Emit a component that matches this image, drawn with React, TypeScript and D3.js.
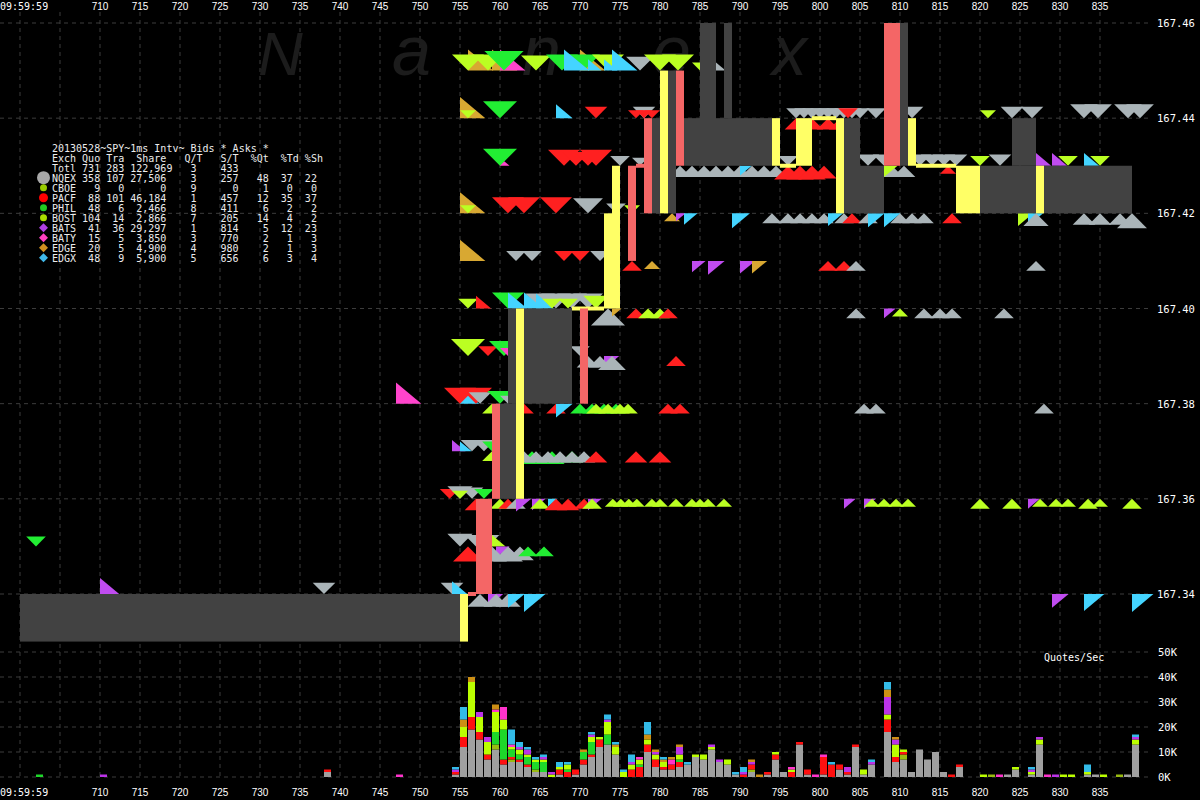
import * as d3 from 'd3';

type Code = 'Q' | 'C' | 'P' | 'X' | 'B' | 'Z' | 'Y' | 'K' | 'J';
type Side = 'a' | 'b' | 'A' | 'B';
// [time (ms after 09:59:59), price, exchange, side, size in lots]
type Quote = [number, number, Code, Side, number];
type Span = [number, number, number, number, 'g' | 'y' | 'r'];

const exchCodes: Code[] = ['Q', 'C', 'P', 'X', 'B', 'Z', 'Y', 'K', 'J'];
const exchNames = ['NQEX', 'CBOE', 'PACF', 'PHIL', 'BOST', 'BATS', 'BATY', 'EDGE', 'EDGX'];
const quoCounts = [358, 9, 88, 48, 104, 41, 15, 20, 48];
const traCounts = [107, 0, 101, 6, 14, 36, 5, 5, 9];
const shareCounts = [27506, 0, 46184, 2466, 2866, 29297, 3850, 4900, 5900];
const quotesPerTrade = [3, 9, 1, 8, 7, 1, 3, 4, 5];
const sharesPerTrade = [257, 0, 457, 411, 205, 814, 770, 980, 656];
const pctQuotes = [48, 1, 12, 6, 14, 5, 2, 2, 6];
const pctTrades = [37, 0, 35, 2, 4, 12, 1, 1, 3];
const pctShares = [22, 0, 37, 2, 2, 23, 3, 3, 4];
const totalRow = [731, 283, 122969, 3, 433];

const priceTicks = [167.34, 167.36, 167.38, 167.4, 167.42, 167.44, 167.46];
const volumeTicks = [0, 10, 20, 30, 40, 50];
const timeTicks = d3.range(700, 840, 5);

// NBBO spread: [t0, t1, low, high, kind]  g = normal, y = locked, r = crossed
const spreadSpans: Span[] = [
  [700, 755, 167.33, 167.34, 'g'],
  [760, 762, 167.36, 167.38, 'g'],
  [761, 769, 167.38, 167.4, 'g'],
  [779, 780, 167.42, 167.44, 'g'],
  [781, 782, 167.42, 167.45, 'g'],
  [783, 794, 167.43, 167.44, 'g'],
  [785, 787, 167.43, 167.46, 'g'],
  [788, 789, 167.44, 167.46, 'g'],
  [803, 805, 167.42, 167.44, 'g'],
  [805, 808, 167.42, 167.43, 'g'],
  [810, 811, 167.43, 167.46, 'g'],
  [820, 827, 167.42, 167.43, 'g'],
  [824, 827, 167.43, 167.44, 'g'],
  [828, 839, 167.42, 167.43, 'g'],
  [755, 756, 167.33, 167.34, 'y'],
  [762, 763, 167.36, 167.4, 'y'],
  [769, 773, 167.4, 167.4, 'y'],
  [773, 774, 167.4, 167.42, 'y'],
  [774, 775, 167.4, 167.43, 'y'],
  [780, 781, 167.42, 167.45, 'y'],
  [794, 795, 167.43, 167.44, 'y'],
  [795, 797, 167.43, 167.43, 'y'],
  [797, 799, 167.43, 167.44, 'y'],
  [799, 802, 167.44, 167.44, 'y'],
  [802, 803, 167.42, 167.44, 'y'],
  [811, 812, 167.43, 167.44, 'y'],
  [812, 817, 167.43, 167.43, 'y'],
  [817, 820, 167.42, 167.43, 'y'],
  [827, 828, 167.42, 167.43, 'y'],
  [756, 757, 167.34, 167.34, 'r'],
  [757, 759, 167.34, 167.36, 'r'],
  [759, 760, 167.36, 167.38, 'r'],
  [770, 771, 167.38, 167.4, 'r'],
  [776, 777, 167.41, 167.43, 'r'],
  [777, 778, 167.43, 167.43, 'r'],
  [778, 779, 167.42, 167.44, 'r'],
  [782, 783, 167.43, 167.45, 'r'],
  [808, 810, 167.43, 167.46, 'r'],
];

const quotes: Quote[] = [
  // 167.45
  [756, 167.45, 'K', 'A', 7], [759, 167.45, 'K', 'A', 7], [760, 167.45, 'Y', 'A', 7], [770, 167.45, 'K', 'A', 7],
  [756, 167.45, 'B', 'a', 4], [758.5, 167.45, 'B', 'a', 4], [760.5, 167.45, 'X', 'a', 6], [764.5, 167.45, 'B', 'a', 3.5],
  [767.75, 167.45, 'X', 'a', 4], [770.5, 167.45, 'X', 'a', 4], [773.5, 167.45, 'B', 'a', 4], [777.5, 167.45, 'Q', 'a', 3],
  [780, 167.45, 'B', 'a', 4], [782.25, 167.45, 'B', 'a', 4], [768, 167.45, 'J', 'A', 7], [771, 167.45, 'J', 'A', 2],
  [773, 167.45, 'J', 'A', 2], [774, 167.45, 'J', 'A', 7], [785, 167.45, 'B', 'a', 1], [787, 167.45, 'Q', 'A', 1],
  // 167.44
  [755, 167.44, 'K', 'A', 7], [756, 167.44, 'B', 'a', 1], [760, 167.44, 'X', 'a', 4.5], [767, 167.44, 'J', 'A', 3],
  [772, 167.44, 'P', 'a', 2], [778, 167.44, 'Q', 'a', 2], [777, 167.44, 'P', 'a', 1], [778, 167.44, 'P', 'a', 1],
  [779, 167.44, 'P', 'a', 1], [797, 167.44, 'Q', 'a', 1.5], [798, 167.44, 'Q', 'a', 1.5], [799, 167.44, 'Q', 'a', 1.5],
  [800, 167.44, 'Q', 'a', 1.5], [801, 167.44, 'Q', 'a', 1.5], [802, 167.44, 'Q', 'a', 1.5], [803, 167.44, 'Q', 'a', 1.5],
  [804, 167.44, 'Q', 'a', 1.5], [805, 167.44, 'Q', 'a', 1.5], [803.5, 167.44, 'P', 'a', 1.5], [807, 167.44, 'Q', 'a', 1.5],
  [811.5, 167.44, 'Q', 'a', 2], [821, 167.44, 'B', 'a', 1], [824, 167.44, 'Q', 'a', 2], [826.5, 167.44, 'Q', 'a', 2],
  [833, 167.44, 'Q', 'a', 3], [834.75, 167.44, 'Q', 'a', 3], [838.5, 167.44, 'Q', 'a', 3], [840, 167.44, 'Q', 'a', 3],
  [797, 167.44, 'P', 'b', 2], [799, 167.44, 'P', 'b', 2], [801, 167.44, 'P', 'b', 2], [802.5, 167.44, 'P', 'b', 2],
  // 167.43
  [760, 167.43, 'Y', 'A', 1], [760, 167.43, 'X', 'a', 4.5], [768, 167.43, 'P', 'a', 4], [769.5, 167.43, 'P', 'a', 3],
  [771, 167.43, 'P', 'a', 3], [772, 167.43, 'P', 'a', 4], [775, 167.43, 'Q', 'a', 1.5], [777.5, 167.43, 'Q', 'a', 1],
  [796, 167.43, 'Q', 'a', 1.5], [806, 167.43, 'Q', 'a', 2], [808, 167.43, 'Q', 'a', 2], [812.5, 167.43, 'Q', 'a', 2],
  [814, 167.43, 'Q', 'a', 2], [815.5, 167.43, 'Q', 'a', 2], [817, 167.43, 'Q', 'a', 2], [820, 167.43, 'B', 'a', 1.5],
  [822.5, 167.43, 'Q', 'a', 2], [827, 167.43, 'Z', 'A', 2.5], [829, 167.43, 'Z', 'A', 2.5], [831, 167.43, 'B', 'a', 1.5],
  [833, 167.43, 'J', 'A', 2.5], [835, 167.43, 'B', 'a', 1.5],
  [782.5, 167.43, 'Q', 'b', 2], [784, 167.43, 'Q', 'b', 2], [785.5, 167.43, 'Q', 'b', 2], [787, 167.43, 'Q', 'b', 2],
  [788.5, 167.43, 'Q', 'b', 2], [790, 167.43, 'Q', 'b', 2], [791.5, 167.43, 'Q', 'b', 2], [793, 167.43, 'Q', 'b', 2],
  [794.5, 167.43, 'Q', 'b', 2], [790, 167.43, 'J', 'B', 1.5], [796, 167.43, 'P', 'b', 3], [797.5, 167.43, 'P', 'b', 3],
  [799, 167.43, 'P', 'b', 3], [800.5, 167.43, 'P', 'b', 2.5], [816, 167.43, 'P', 'b', 1], [809, 167.43, 'Q', 'b', 2],
  [810.5, 167.43, 'Q', 'b', 2], [808, 167.43, 'B', 'B', 2],
  // 167.42
  [755, 167.42, 'K', 'A', 7], [756, 167.42, 'B', 'a', 1], [761, 167.42, 'P', 'a', 4], [763, 167.42, 'P', 'a', 4],
  [767, 167.42, 'P', 'a', 4], [771, 167.42, 'Q', 'a', 3.5], [774.5, 167.42, 'Q', 'a', 1.5], [776.5, 167.42, 'B', 'a', 1],
  [781.5, 167.42, 'K', 'b', 1], [782, 167.42, 'Z', 'B', 1], [783, 167.42, 'J', 'B', 2], [789, 167.42, 'J', 'B', 3.5],
  [794, 167.42, 'Q', 'b', 1.5], [796, 167.42, 'Q', 'b', 1.5], [797.5, 167.42, 'Q', 'b', 1.5], [799, 167.42, 'Q', 'b', 1.5],
  [800.5, 167.42, 'Q', 'b', 1.5], [801, 167.42, 'J', 'B', 2.5], [803, 167.42, 'Q', 'b', 1.5], [804, 167.42, 'P', 'b', 1.5],
  [806, 167.42, 'Q', 'b', 1.5], [806, 167.42, 'J', 'B', 3], [808, 167.42, 'J', 'B', 3], [810, 167.42, 'Q', 'b', 1.5],
  [811.5, 167.42, 'Q', 'b', 1.5], [813, 167.42, 'Q', 'b', 1.5], [816.5, 167.42, 'P', 'b', 1.5], [824.75, 167.42, 'B', 'B', 2.5],
  [826, 167.42, 'J', 'B', 2.5], [827, 167.42, 'Q', 'b', 2.5], [833, 167.42, 'Q', 'b', 2], [835, 167.42, 'Q', 'b', 2],
  [837.5, 167.42, 'Q', 'b', 2], [839, 167.42, 'Q', 'b', 3.5],
  // 167.41
  [755, 167.41, 'K', 'A', 7], [762, 167.41, 'Q', 'a', 1.5], [764, 167.41, 'Q', 'a', 1.5], [768, 167.41, 'P', 'a', 1.5],
  [770, 167.41, 'P', 'a', 1.5], [772.5, 167.41, 'Q', 'a', 1.5], [776.5, 167.41, 'P', 'b', 1.5], [779, 167.41, 'K', 'b', 1],
  [784, 167.41, 'Z', 'B', 2], [786, 167.41, 'Z', 'B', 3], [790, 167.41, 'Z', 'B', 2.5], [791.5, 167.41, 'K', 'B', 2.5],
  [801, 167.41, 'P', 'b', 1.5], [803, 167.41, 'P', 'b', 1.5], [804.5, 167.41, 'Q', 'b', 1.5], [827, 167.41, 'Q', 'b', 1.5],
  // 167.40
  [756, 167.4, 'B', 'a', 1.5], [757, 167.4, 'P', 'A', 2.5], [761, 167.4, 'X', 'a', 4], [765, 167.4, 'Q', 'a', 3.5],
  [767, 167.4, 'Q', 'a', 3.5], [769, 167.4, 'Q', 'a', 3.5], [771, 167.4, 'Q', 'a', 3.5], [761, 167.4, 'J', 'A', 4],
  [763, 167.4, 'J', 'A', 4], [764.5, 167.4, 'J', 'A', 3.5], [766.5, 167.4, 'B', 'a', 1.5], [768.5, 167.4, 'B', 'a', 1.5],
  [772, 167.4, 'B', 'a', 2.5], [773.5, 167.4, 'Q', 'b', 4.5], [774, 167.4, 'K', 'B', 1], [777, 167.4, 'P', 'b', 1.5],
  [778.5, 167.4, 'B', 'b', 1.5], [780, 167.4, 'B', 'b', 1.5], [781, 167.4, 'P', 'b', 1.5], [804.5, 167.4, 'Q', 'b', 1.5],
  [808, 167.4, 'Z', 'B', 1.5], [810, 167.4, 'B', 'b', 1], [813, 167.4, 'Q', 'b', 1.5], [815, 167.4, 'Q', 'b', 1.5],
  [816.5, 167.4, 'Q', 'b', 1.5], [823, 167.4, 'Q', 'b', 1.5],
  // 167.39
  [756, 167.39, 'B', 'a', 4.5], [758.5, 167.39, 'P', 'a', 1.5], [760.5, 167.39, 'X', 'a', 3.5], [761, 167.39, 'Y', 'a', 1],
  [770, 167.39, 'Q', 'a', 1.5], [773, 167.39, 'Z', 'B', 2.5], [771, 167.39, 'Q', 'b', 2], [772.5, 167.39, 'Q', 'b', 2],
  [774, 167.39, 'Q', 'b', 3], [782, 167.39, 'P', 'b', 1.5],
  // 167.38
  [747, 167.38, 'Y', 'A', 7], [755, 167.38, 'J', 'A', 4], [755, 167.38, 'P', 'a', 4], [757, 167.38, 'P', 'a', 4],
  [757.5, 167.38, 'Q', 'a', 2], [760, 167.38, 'X', 'a', 2.5], [761, 167.38, 'Q', 'a', 1], [759, 167.38, 'B', 'b', 1.5],
  [763, 167.38, 'P', 'b', 1.5], [767, 167.38, 'P', 'b', 1.5], [767, 167.38, 'J', 'B', 3], [770, 167.38, 'X', 'b', 1.5],
  [771.5, 167.38, 'X', 'b', 1.5], [773, 167.38, 'X', 'b', 1.5], [774.5, 167.38, 'X', 'b', 1.5], [772, 167.38, 'B', 'b', 1.5],
  [773.5, 167.38, 'B', 'b', 1.5], [775, 167.38, 'B', 'b', 1.5], [776, 167.38, 'B', 'b', 1.5], [781, 167.38, 'P', 'b', 1.5],
  [782.5, 167.38, 'P', 'b', 1.5], [805.5, 167.38, 'Q', 'b', 1.5], [807, 167.38, 'Q', 'b', 1.5], [828, 167.38, 'Q', 'b', 1.5],
  // 167.37
  [754, 167.37, 'Z', 'A', 2], [755, 167.37, 'J', 'A', 1.5], [756.5, 167.37, 'Q', 'a', 2], [758, 167.37, 'Q', 'a', 2],
  [759, 167.37, 'X', 'a', 1.5], [759, 167.37, 'B', 'b', 1.5], [762.5, 167.37, 'B', 'b', 1.5], [764, 167.37, 'X', 'b', 2.5],
  [766.5, 167.37, 'X', 'b', 2.5], [769, 167.37, 'X', 'b', 2], [763, 167.37, 'Q', 'b', 2], [764.5, 167.37, 'Q', 'b', 2],
  [766, 167.37, 'Q', 'b', 2], [767.5, 167.37, 'Q', 'b', 2], [769, 167.37, 'Q', 'b', 2], [770.5, 167.37, 'Q', 'b', 2],
  [772, 167.37, 'P', 'b', 2], [777, 167.37, 'P', 'b', 2], [780, 167.37, 'P', 'b', 2],
  // 167.36
  [753.7, 167.36, 'P', 'a', 1.5], [755, 167.36, 'Q', 'a', 2.5], [756.5, 167.36, 'Q', 'a', 2], [755, 167.36, 'B', 'a', 1],
  [758, 167.36, 'X', 'a', 1.5], [757, 167.36, 'P', 'b', 2], [760, 167.36, 'B', 'b', 1.5], [761, 167.36, 'P', 'b', 1.5],
  [762, 167.36, 'Q', 'b', 1.5], [762, 167.36, 'Z', 'B', 2.5], [764, 167.36, 'Z', 'B', 2], [765, 167.36, 'B', 'b', 1.5],
  [766, 167.36, 'J', 'B', 1], [767, 167.36, 'P', 'b', 2], [768.5, 167.36, 'P', 'b', 2], [770.5, 167.36, 'P', 'b', 1.5],
  [771, 167.36, 'Z', 'B', 2], [771.5, 167.36, 'B', 'b', 1.5],
  [774.1, 167.36, 'B', 'b', 1], [775.1, 167.36, 'B', 'b', 1], [776.1, 167.36, 'B', 'b', 1], [777.1, 167.36, 'B', 'b', 1],
  [779, 167.36, 'B', 'b', 1], [780, 167.36, 'B', 'b', 1], [782, 167.36, 'B', 'b', 1], [784, 167.36, 'B', 'b', 1],
  [785, 167.36, 'B', 'b', 1], [786, 167.36, 'B', 'b', 1], [788, 167.36, 'B', 'b', 1],
  [803, 167.36, 'Z', 'B', 1.5], [805.5, 167.36, 'Z', 'B', 1.5], [806.5, 167.36, 'B', 'b', 1], [808, 167.36, 'B', 'b', 1],
  [809.5, 167.36, 'B', 'b', 1], [811, 167.36, 'B', 'b', 1], [820, 167.36, 'B', 'b', 1.5], [824, 167.36, 'B', 'b', 1.5],
  [826, 167.36, 'Z', 'B', 1.5], [827.5, 167.36, 'B', 'b', 1], [829.5, 167.36, 'B', 'b', 1], [831, 167.36, 'B', 'b', 1],
  [833.5, 167.36, 'B', 'b', 1.5], [835, 167.36, 'B', 'b', 1], [839, 167.36, 'B', 'b', 1.5],
  // 167.35
  [702, 167.35, 'X', 'a', 1.5], [755, 167.35, 'Q', 'a', 2.5], [757, 167.35, 'Q', 'a', 2], [758.5, 167.35, 'Q', 'a', 2],
  [759, 167.35, 'B', 'A', 2], [756, 167.35, 'P', 'b', 3.5], [761, 167.35, 'Z', 'b', 1], [759.5, 167.35, 'Z', 'B', 2],
  [759, 167.35, 'Q', 'b', 3.5], [761, 167.35, 'Q', 'b', 3.5], [762.5, 167.35, 'Q', 'b', 3], [763.5, 167.35, 'X', 'b', 1.5],
  [765.5, 167.35, 'X', 'b', 1.5],
  // 167.34
  [710, 167.34, 'Z', 'A', 4], [738, 167.34, 'Q', 'a', 2], [754, 167.34, 'Q', 'a', 2], [754, 167.34, 'J', 'A', 2.5],
  [758.5, 167.34, 'Z', 'B', 2.5], [757.5, 167.34, 'Q', 'b', 2.5], [759.5, 167.34, 'Q', 'b', 2.5], [761, 167.34, 'Q', 'b', 2.5],
  [761, 167.34, 'J', 'B', 3], [763, 167.34, 'J', 'B', 5], [829, 167.34, 'Z', 'B', 3], [833, 167.34, 'J', 'B', 4.5],
  [839, 167.34, 'J', 'B', 5],
];

// quotes per ms bin, thousands/sec: [t, NQEX, CBOE, PACF, PHIL, BOST, BATS, BATY, EDGE, EDGX]
const volBins: number[][] = [
  [702, 0, 0, 0, 1, 0, 0, 0, 0, 0], [710, 0, 0, 0, 0, 0, 1, 0, 0, 0], [738, 2, 0, 1, 0, 0, 0, 0, 0, 0],
  [747, 0, 0, 0, 0, 0, 0, 1, 0, 0], [754, 1, 0, 1, 0, 0, 1, 0, 0, 1], [755, 12, 0, 4, 0, 4, 0, 0, 3, 5],
  [756, 19, 0, 5, 0, 14, 0, 0, 2, 0], [757, 15, 0, 3, 0, 6, 2, 0, 0, 0], [758, 7, 0, 2, 0, 5, 2, 0, 0, 0],
  [759, 11, 2, 0, 5, 8, 0, 1, 2, 0], [760, 5, 0, 2, 12, 4, 0, 5, 0, 0], [761, 6, 1, 1, 3, 1, 0, 1, 0, 6],
  [762, 6, 0, 1, 2, 2, 1, 0, 0, 2], [763, 4, 0, 1, 3, 1, 2, 0, 0, 1], [764, 2, 1, 0, 3, 1, 0, 0, 0, 1],
  [765, 2, 0, 0, 4, 1, 1, 0, 0, 1], [766, 0, 0, 0, 0, 1, 1, 0, 0, 0], [767, 1, 0, 2, 0, 1, 0, 0, 0, 2],
  [768, 0, 0, 2, 1, 2, 0, 0, 0, 1], [769, 1, 0, 2, 0, 0, 0, 0, 0, 0], [770, 5, 0, 2, 3, 0, 0, 0, 1, 0],
  [771, 8, 0, 1, 5, 2, 1, 0, 0, 1], [772, 12, 0, 3, 0, 1, 0, 0, 0, 0], [773, 13, 0, 0, 4, 5, 1, 0, 0, 2],
  [774, 9, 0, 0, 0, 3, 0, 0, 1, 1], [775, 0, 0, 0, 0, 2, 0, 0, 0, 1], [776, 0, 0, 3, 0, 2, 1, 0, 0, 3],
  [777, 0, 0, 4, 1, 2, 0, 1, 0, 0], [778, 10, 0, 3, 0, 2, 0, 0, 2, 5], [779, 4, 0, 3, 0, 2, 1, 0, 1, 0],
  [780, 3, 0, 1, 0, 2, 0, 0, 1, 1], [781, 3, 0, 2, 0, 0, 0, 2, 1, 0], [782, 4, 0, 2, 1, 2, 3, 0, 1, 0],
  [783, 5, 0, 0, 0, 0, 0, 0, 0, 1], [784, 8, 0, 0, 0, 1, 0, 0, 0, 0], [785, 7, 0, 0, 0, 2, 0, 0, 0, 0],
  [786, 11, 0, 0, 0, 1, 1, 0, 0, 0], [787, 6, 0, 0, 0, 0, 1, 0, 0, 0], [788, 5, 0, 0, 0, 2, 0, 0, 0, 0],
  [789, 1, 0, 0, 0, 0, 0, 0, 0, 1], [790, 0, 0, 1, 0, 0, 1, 0, 0, 2], [791, 2, 1, 2, 0, 0, 1, 0, 1, 0],
  [792, 0, 0, 0, 0, 0, 0, 0, 1, 0], [793, 1, 0, 1, 0, 0, 0, 0, 0, 0], [794, 7, 0, 2, 0, 1, 0, 0, 0, 0],
  [795, 2, 0, 0, 0, 0, 0, 0, 0, 0], [796, 0, 0, 2, 0, 1, 0, 1, 0, 0], [797, 13, 0, 1, 0, 0, 0, 0, 0, 0],
  [798, 1, 0, 2, 0, 0, 0, 0, 0, 0], [799, 0, 0, 0, 0, 0, 0, 1, 0, 0], [800, 1, 0, 7, 0, 0, 0, 1, 0, 0],
  [801, 0, 0, 5, 0, 0, 0, 0, 0, 1], [802, 3, 0, 2, 0, 0, 0, 0, 0, 0], [803, 1, 0, 1, 0, 0, 2, 0, 0, 0],
  [804, 12, 0, 1, 0, 0, 0, 0, 0, 0], [805, 1, 0, 0, 0, 2, 0, 0, 0, 0], [806, 5, 0, 0, 0, 0, 1, 0, 0, 1],
  [808, 18, 0, 5, 0, 2, 7, 0, 3, 3], [809, 6, 0, 2, 0, 5, 2, 0, 1, 0], [810, 7, 2, 1, 0, 1, 0, 0, 0, 0],
  [811, 2, 0, 0, 0, 0, 0, 0, 0, 0], [812, 11, 0, 0, 0, 0, 0, 0, 0, 0], [813, 7, 0, 0, 0, 0, 0, 0, 0, 0],
  [814, 10, 0, 0, 0, 0, 0, 0, 0, 0], [815, 2, 0, 0, 0, 0, 0, 0, 0, 0], [816, 0, 0, 1, 0, 0, 0, 0, 0, 0],
  [817, 4, 0, 1, 0, 0, 0, 0, 0, 0], [820, 0, 0, 0, 0, 1, 0, 0, 0, 0], [821, 0, 1, 0, 0, 0, 0, 0, 0, 0],
  [822, 0, 0, 0, 0, 0, 0, 1, 0, 0], [823, 1, 0, 0, 0, 0, 0, 0, 0, 0], [824, 3, 0, 0, 0, 1, 0, 0, 0, 0],
  [826, 1, 0, 0, 0, 1, 1, 0, 0, 1], [827, 13, 0, 0, 0, 2, 1, 0, 0, 0], [828, 0, 0, 0, 0, 0, 0, 1, 0, 0],
  [829, 0, 0, 0, 0, 0, 1, 0, 0, 0], [830, 0, 0, 0, 0, 1, 0, 0, 0, 0], [831, 0, 0, 0, 0, 1, 0, 0, 0, 0],
  [833, 1, 0, 0, 0, 1, 0, 0, 0, 3], [834, 1, 0, 0, 0, 0, 0, 0, 0, 0], [835, 0, 0, 0, 0, 1, 0, 0, 0, 0],
  [837, 0, 1, 0, 0, 0, 0, 0, 0, 0], [838, 1, 0, 0, 0, 0, 0, 0, 0, 0], [839, 13, 0, 0, 0, 2, 1, 0, 0, 1],
];

const quoteColor: Record<Code, string> = {
  Q: '#aab4b8', C: '#99cc00', P: '#ff2020', X: '#22ee33', B: '#bbff22',
  Z: '#c04cf0', Y: '#ff44cc', K: '#d8a832', J: '#44d4ff',
};
const barColor: Record<Code, string> = {
  Q: '#a0a0a0', C: '#99bb11', P: '#ff1010', X: '#1ed82a', B: '#bbff00',
  Z: '#bb33e8', Y: '#ff33cc', K: '#cc8f14', J: '#33bbe8',
};
const spanColor = { g: '#424242', y: '#ffff66', r: '#f46666' };

const MONO = "'DejaVu Sans Mono', monospace";
const SANS = "'Liberation Sans', Arial, sans-serif";
const GRID = '#3c3c3c';

const putRight = (buf: string[], s: string, end: number) => {
  for (let i = 0; i < s.length; i++) buf[end - s.length + i] = s[i];
};
const fmt = d3.format(',');

function tableLine(cells: [string, number][]) {
  const buf = new Array(46).fill(' ');
  cells.forEach(([s, end]) => putRight(buf, s, end));
  return buf.join('').replace(/\s+$/, '');
}

export default function App() {
  const x = d3.scaleLinear().domain([700, 840]).range([20, 1140]);
  const y = d3.scaleLinear().domain([167.34, 167.46]).range([594, 23]);
  const v = d3.scaleLinear().domain([0, 50]).range([777, 652]);
  const qh = d3.scaleSqrt().domain([0, 1]).range([0, 8]);

  const triPath = ([t, p, , side, qty]: Quote) => {
    const cx = x(t);
    const cy = y(p);
    const h = qh(qty);
    const w = h * 1.2;
    if (side === 'a') return `M${cx - h},${cy - h}L${cx + h},${cy - h}L${cx},${cy}Z`;
    if (side === 'b') return `M${cx - h},${cy + h}L${cx + h},${cy + h}L${cx},${cy}Z`;
    if (side === 'A') return `M${cx},${cy - h}L${cx},${cy}L${cx + w},${cy}Z`;
    return `M${cx},${cy}L${cx + w},${cy}L${cx},${cy + h}Z`;
  };

  const rows = volBins.map(([t, ...vals]) => {
    const o: Record<string, number> = { t };
    exchCodes.forEach((c, i) => (o[c] = vals[i]));
    return o;
  });
  const stacked = d3.stack<Record<string, number>>().keys(exchCodes)(rows);

  const header = tableLine([
    ['Exch', 4], ['Quo', 8], ['Tra', 12], ['Share', 19], ['Q/T', 25], ['S/T', 31], ['%Qt', 36], ['%Td', 41], ['%Sh', 45],
  ]);
  const totl = tableLine([
    ['Totl', 4], [String(totalRow[0]), 8], [String(totalRow[1]), 12], [fmt(totalRow[2]), 20],
    [String(totalRow[3]), 24], [String(totalRow[4]), 31],
  ]);
  const exchLines = exchNames.map((n, i) =>
    tableLine([
      [n, 4], [String(quoCounts[i]), 8], [String(traCounts[i]), 12], [fmt(shareCounts[i]), 19],
      [String(quotesPerTrade[i]), 24], [String(sharesPerTrade[i]), 31], [String(pctQuotes[i]), 36],
      [String(pctTrades[i]), 40], [String(pctShares[i]), 44],
    ])
  );
  const legendLines = ['20130528~SPY~1ms Intv~ Bids * Asks *', header, totl, ...exchLines];
  const legendMarkColors = ['#a8a8a8', '#99cc00', '#ff0000', '#22cc22', '#aadd00', '#b040e0', '#ff40c0', '#d09020', '#40b8e8'];

  // faint "Nanex" watermark letters: [glyph, left x, font size]
  const watermark: [string, number, number][] = [['N', 258, 62], ['a', 392, 70], ['n', 522, 70], ['e', 652, 70], ['x', 772, 70]];

  return (
    <>
      <style>{'body{margin:0;background:#000}'}</style>
      <svg width={1200} height={800} style={{ display: 'block', background: '#000' }}>
        <rect width={1200} height={800} fill="#000" />
        {/* grid */}
        {timeTicks.map((t) => (
          <line key={`vg${t}`} x1={x(t)} x2={x(t)} y1={12} y2={777} stroke={GRID} strokeDasharray="4,4" />
        ))}
        {priceTicks.map((p) => (
          <line key={`hg${p}`} x1={0} x2={1152} y1={y(p)} y2={y(p)} stroke={GRID} strokeDasharray="4,4" />
        ))}
        {volumeTicks.map((q) => (
          <line key={`vq${q}`} x1={0} x2={1152} y1={v(q)} y2={v(q)} stroke={GRID} strokeDasharray="4,4" />
        ))}
        {/* watermark */}
        {watermark.map(([ch, wx, fs]) => (
          <text key={ch + wx} x={wx} y={75} fill="#1c1c1c" fontSize={fs} fontStyle="italic" fontFamily={SANS} dominantBaseline="alphabetic">
            {ch}
          </text>
        ))}
        {/* quotes */}
        {quotes.map((q, i) => (
          <path key={`q${i}`} d={triPath(q)} fill={quoteColor[q[2]]} />
        ))}
        {/* NBBO spread */}
        {spreadSpans.map(([t0, t1, lo, hi, k], i) => {
          const thin = lo === hi;
          const y0 = thin ? y(hi) - 2 : y(hi);
          const hh = thin ? 4 : y(lo) - y(hi);
          return <rect key={`s${i}`} x={x(t0)} y={y0} width={x(t1) - x(t0)} height={hh} fill={spanColor[k]} />;
        })}
        {/* volume bars */}
        {stacked.map((s) =>
          s.map((d, i) =>
            d[1] > d[0] ? (
              <rect key={`${s.key}${i}`} x={x(d.data.t)} y={v(d[1])} width={7} height={v(d[0]) - v(d[1])} fill={barColor[s.key as Code]} />
            ) : null
          )
        )}
        {/* legend table */}
        {legendLines.map((l, i) => (
          <text key={`l${i}`} x={52} y={151.5 + i * 10} fill="#ececec" fontSize={10} fontFamily={MONO} xmlSpace="preserve" style={{ whiteSpace: 'pre' }}>
            {l}
          </text>
        ))}
        {legendMarkColors.map((c, i) => {
          const cy = 177.7 + i * 10;
          if (i === 0) return <circle key={`m${i}`} cx={43.5} cy={cy} r={6.5} fill={c} />;
          if (i < 5) return <circle key={`m${i}`} cx={43.5} cy={cy} r={i === 2 ? 4.5 : 3.5} fill={c} />;
          return <path key={`m${i}`} d={`M43.5,${cy - 4.5}L48,${cy}L43.5,${cy + 4.5}L39,${cy}Z`} fill={c} />;
        })}
        {/* time labels top and bottom */}
        {[9.5, 796].map((ty) => (
          <g key={`tl${ty}`} fill="#fff" fontSize={10} fontFamily={SANS}>
            <text x={0} y={ty} fontFamily={MONO}>09:59:59</text>
            {timeTicks
              .filter((t) => t >= 710)
              .map((t) => (
                <text key={t} x={x(t)} y={ty} textAnchor="middle">
                  {t}
                </text>
              ))}
          </g>
        ))}
        {/* price labels */}
        {priceTicks.map((p) => (
          <text key={`pl${p}`} x={1157} y={y(p) + 4} fill="#fff" fontSize={10.5} fontFamily={MONO}>
            {p.toFixed(2)}
          </text>
        ))}
        {volumeTicks.map((q) => (
          <text key={`vl${q}`} x={1158} y={v(q) + 4} fill="#fff" fontSize={10.5} fontFamily={MONO}>
            {`${q}K`}
          </text>
        ))}
        <text x={1044} y={661} fill="#fff" fontSize={10} fontFamily={MONO}>
          Quotes/Sec
        </text>
      </svg>
    </>
  );
}
